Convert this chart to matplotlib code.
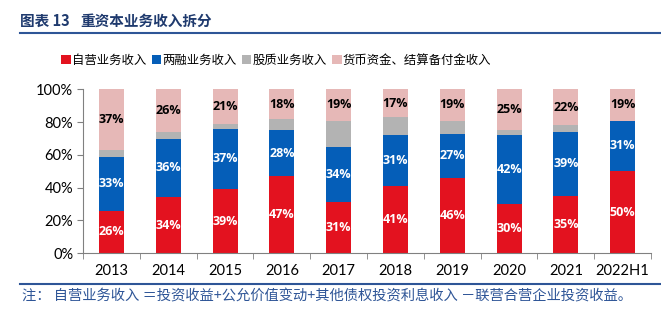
import matplotlib
matplotlib.use('Agg')
import matplotlib.pyplot as plt
import numpy as np
from matplotlib.lines import Line2D
from matplotlib.patches import Patch

plt.rcParams['font.family'] = ['Lato', 'Noto Sans CJK SC', 'DejaVu Sans']

years = ['2013', '2014', '2015', '2016', '2017', '2018', '2019', '2020', '2021', '2022H1']
ziying = [26, 34, 39, 47, 31, 41, 46, 30, 35, 50]
liangrong = [33, 36, 37, 28, 34, 31, 27, 42, 39, 31]
guzhi = [4, 4, 3, 7, 16, 11, 8, 3, 4, 0]
huobi = [37, 26, 21, 18, 19, 17, 19, 25, 22, 19]

series_names = ['自营业务收入', '两融业务收入', '股质业务收入', '货币资金、结算备付金收入']
colors = ['#E3121F', '#055EB8', '#B3B3B3', '#E6B8B7']
label_colors = ['white', 'white', None, 'black']

fig = plt.figure(figsize=(6.61, 3.24), dpi=100)
ax = fig.add_axes([0.1256, 0.219, 0.8594, 0.505])

x = np.arange(len(years))
data = [ziying, liangrong, guzhi, huobi]
bottom = np.zeros(len(years))
for vals, c, lc in zip(data, colors, label_colors):
    vals = np.array(vals, dtype=float)
    ax.bar(x, vals, 0.44, bottom=bottom, color=c, linewidth=0)
    if lc is not None:
        for xi, b, v in zip(x, bottom, vals):
            ax.text(xi, b + v / 2, '%d%%' % v, ha='center', va='center',
                    color=lc, fontsize=9, fontweight='bold',
                    family=['Open Sans', 'DejaVu Sans'])
    bottom += vals

ax.set_xlim(-0.5, len(years) - 0.5)
ax.set_ylim(0, 100)
ax.set_yticks(range(0, 101, 20))
ax.set_yticklabels(['%d%%' % v for v in range(0, 101, 20)], fontsize=10.5)
ax.set_xticks(x)
ax.set_xticklabels(years, fontsize=10.5)
ax.set_xticks(np.arange(-0.5, len(years)), minor=True)
ax.tick_params(axis='x', which='major', length=0, pad=8)
ax.tick_params(axis='x', which='minor', length=4, direction='out', color='#808080')
ax.tick_params(axis='y', length=4, direction='out', color='#808080', pad=3)
for s in ['top', 'right']:
    ax.spines[s].set_visible(False)
ax.spines['left'].set_color('#808080')
ax.spines['bottom'].set_color('#808080')

handles = [Patch(facecolor=c, edgecolor='none') for c in colors]
fig.legend(handles, series_names, loc='center', bbox_to_anchor=(0.418, 0.815),
           ncol=4, frameon=False, handlelength=0.75, handleheight=0.75,
           handletextpad=0.1, columnspacing=0.45,
           prop={'family': ['Noto Sans CJK SC'], 'size': 8.9})

# title and rules
fig.text(20 / 661, 1 - 21 / 324, '图表 13', fontsize=10.5, fontweight='bold',
         color='#1F3A6E', va='center', family=['Noto Sans CJK SC'])
fig.text(80 / 661, 1 - 21 / 324, '重资本业务收入拆分', fontsize=10.5, fontweight='bold',
         color='#1F3A6E', va='center', family=['Noto Sans CJK SC'])
fig.add_artist(Line2D([20 / 661, 1], [1 - 33 / 324] * 2, color='#2E5597', lw=1.5))
fig.add_artist(Line2D([20 / 661, 1], [1 - 284 / 324] * 2, color='#2E5597', lw=1.5))
fig.text(22 / 661, 1 - 297 / 324,
         '注： 自营业务收入 ＝投资收益+公允价值变动+其他债权投资利息收入 －联营合营企业投资收益。',
         fontsize=10.3, color='#2E5597', va='center', style='italic',
         family=['Noto Sans CJK SC', 'DejaVu Sans'])

fig.savefig('out.png', dpi=100)
